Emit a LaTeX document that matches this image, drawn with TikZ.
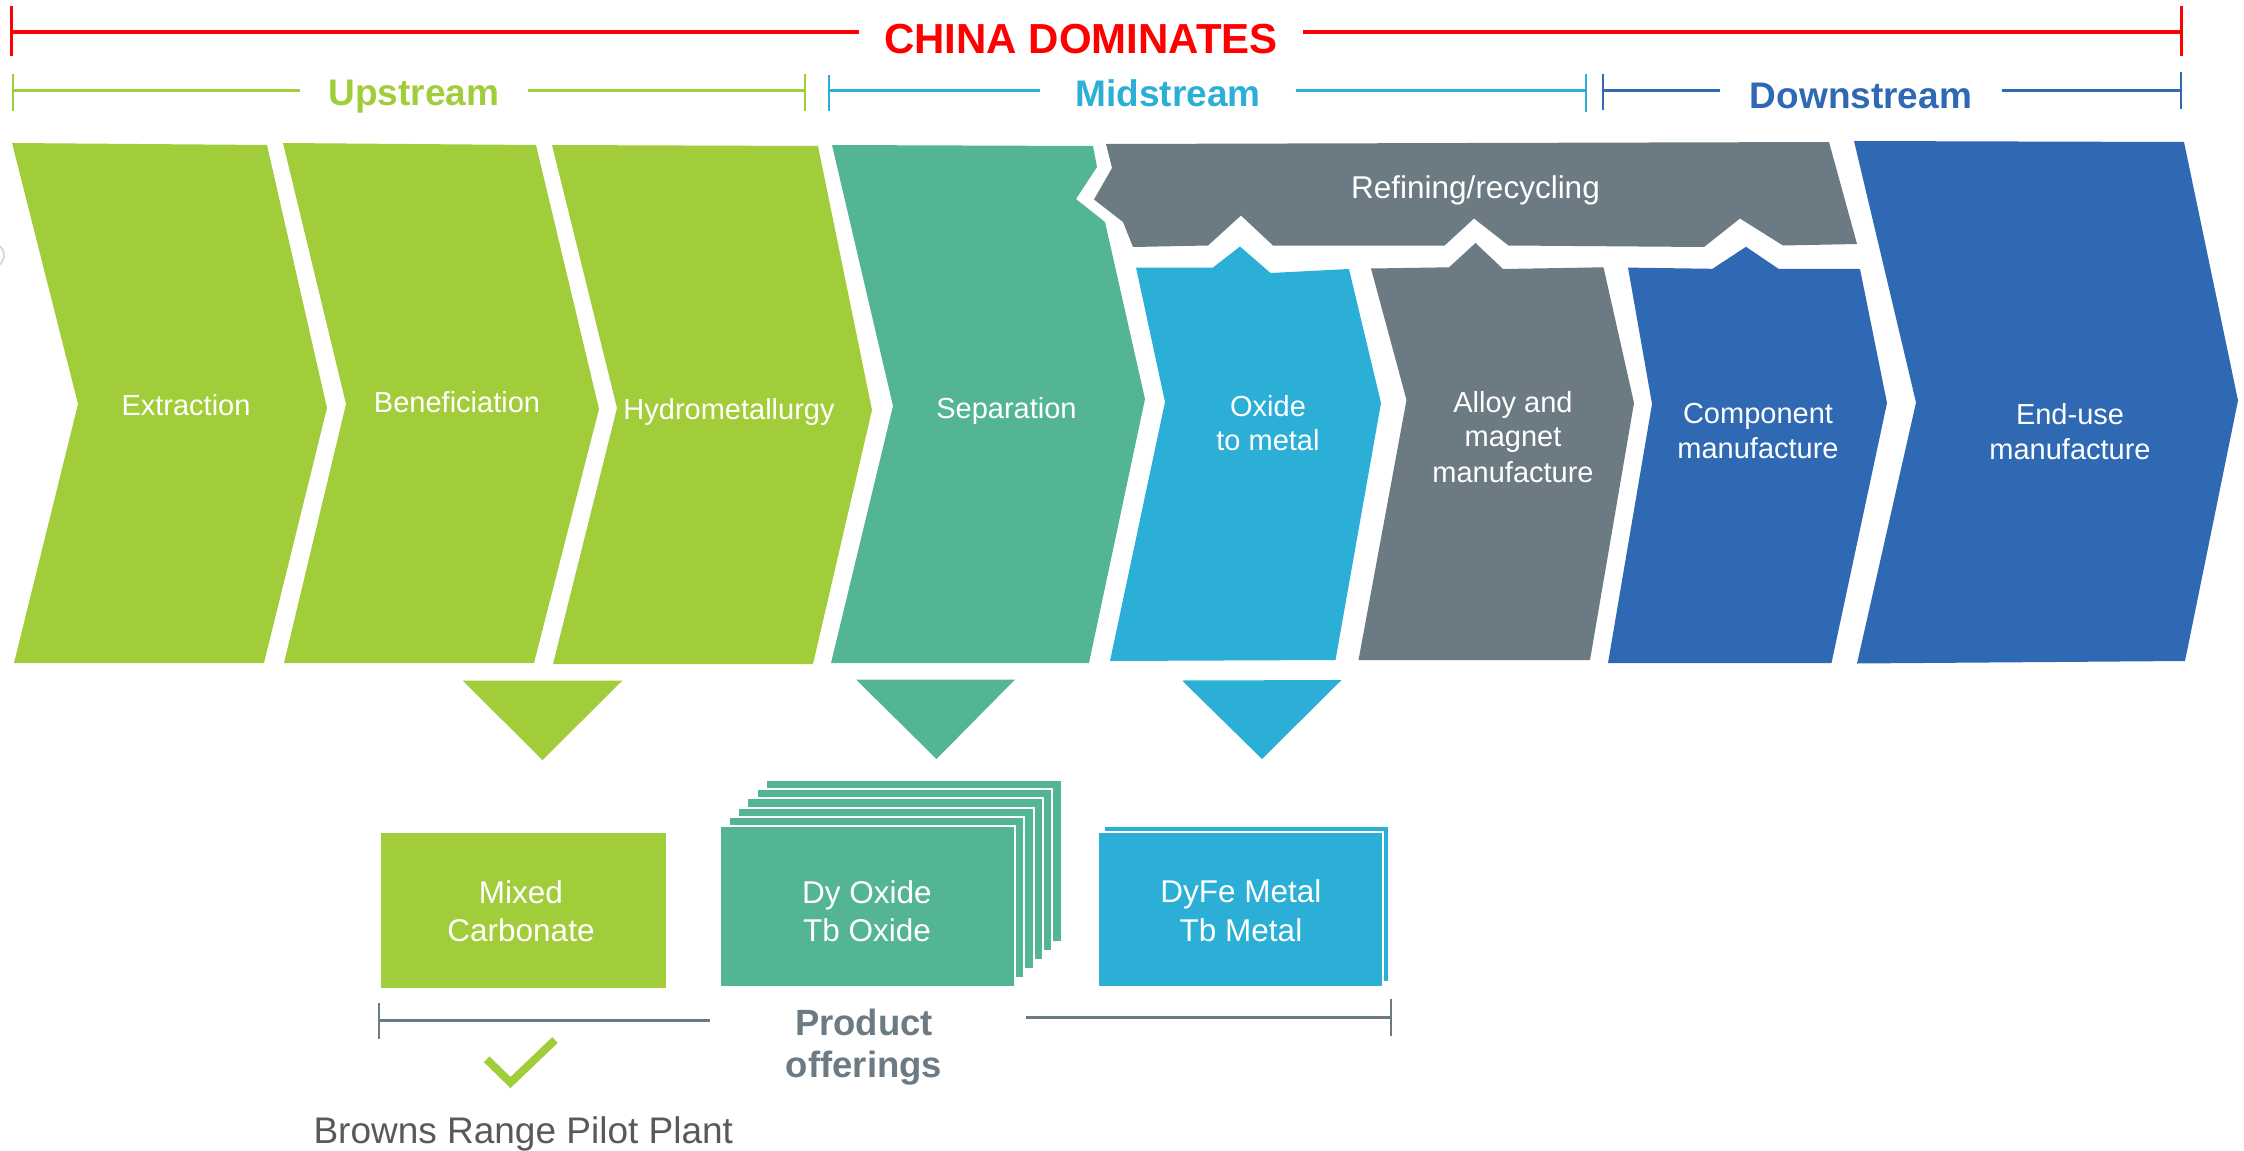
\documentclass[tikz,border=0pt]{standalone}
\usepackage{fontspec}
\setmainfont{Liberation Sans}
\definecolor{cgreen}{HTML}{A2CD3A}
\definecolor{cteal}{HTML}{54B595}
\definecolor{ccyan}{HTML}{2BAFD6}
\definecolor{cgray}{HTML}{6C7A84}
\definecolor{cblue}{HTML}{2F69B3}
\definecolor{cred}{HTML}{FF0000}
\definecolor{ctext}{HTML}{595959}
\begin{document}
\begin{tikzpicture}[x=1pt,y=-1pt,
  lbl/.style={text=white, font=\fontsize{29}{35}\selectfont, anchor=base, inner sep=0pt},
  boxlbl/.style={text=white, font=\fontsize{31.5}{38}\selectfont, anchor=base, inner sep=0pt},
  hdr/.style={font=\bfseries\fontsize{37}{44}\selectfont, anchor=base, inner ysep=0pt},
  barline/.style={line width=3pt},
  stackbox/.style={fill=#1, draw=white, line width=2pt}
]
\useasboundingbox (0,0) rectangle (2244,1151);

% faint remnant at left edge
\draw[black!18, line width=1.5pt] (-0.3,246.2) arc[start angle=-50,end angle=50,radius=12];

% ---------- CHINA DOMINATES ----------
\coordinate (rL) at (11.5,31.5);
\coordinate (rR) at (2181,31.5);
\node[anchor=base, inner ysep=0pt, inner xsep=25pt, text=cred,
      font=\bfseries\fontsize{42}{50}\selectfont] (china) at (1081,53.3) {CHINA DOMINATES};
\draw[cred, line width=4pt] (rL) -- (rL -| china.west);
\draw[cred, line width=4pt] (rR -| china.east) -- (rR);
\draw[cred, line width=3pt] ([yshift=25.5pt]rL) -- ([yshift=-24.5pt]rL);
\draw[cred, line width=3pt] ([yshift=25.5pt]rR) -- ([yshift=-24.5pt]rR);

% ---------- Upstream ----------
\coordinate (uL) at (13,90.7);
\coordinate (uR) at (805,90.7);
\node[hdr, text=cgreen, inner xsep=28pt] (up) at (414,105.5) {Upstream};
\draw[cgreen, barline] (uL) -- (uL -| up.west);
\draw[cgreen, barline] (uR -| up.east) -- (uR);
\draw[cgreen, line width=2.5pt] ([yshift=16.7pt]uL) -- ([yshift=-20pt]uL);
\draw[cgreen, line width=2.5pt] ([yshift=16.7pt]uR) -- ([yshift=-20pt]uR);

% ---------- Midstream ----------
\coordinate (mL) at (829,90.7);
\coordinate (mR) at (1586,90.7);
\node[hdr, text=ccyan, inner xsep=35pt] (mid) at (1168,106.5) {Midstream};
\draw[ccyan, barline] (mL) -- (mL -| mid.west);
\draw[ccyan, barline] (mR -| mid.east) -- (mR);
\draw[ccyan, line width=2.5pt] ([yshift=16pt]mL) -- ([yshift=-20.5pt]mL);
\draw[ccyan, line width=2.5pt] ([yshift=16.7pt]mR) -- ([yshift=-21pt]mR);

% ---------- Downstream ----------
\coordinate (dL) at (1603,90.7);
\coordinate (dR) at (2181,90.7);
\node[hdr, text=cblue, inner xsep=29.5pt] (down) at (1861,108) {Downstream};
\draw[cblue, barline] (dL) -- (dL -| down.west);
\draw[cblue, barline] (dR -| down.east) -- (dR);
\draw[cblue, line width=2.5pt] ([yshift=17pt]dL) -- ([yshift=-19pt]dL);
\draw[cblue, line width=2.5pt] ([yshift=18.7pt]dR) -- ([yshift=-18.3pt]dR);

% ---------- chevrons ----------
\fill[cgreen] (12,143) -- (267,145) -- (327,408) -- (264,663) -- (14,663) -- (78,404) -- cycle;
\fill[cgreen] (283,143) -- (536,145) -- (599,409) -- (534,663) -- (284,663) -- (346,404) -- cycle;
\fill[cgreen] (552,145) -- (818,146) -- (872,410) -- (813,664) -- (553,664) -- (617,408) -- cycle;
\fill[cteal] (832,145) -- (1093,146) -- (1097,167) -- (1076,199) -- (1105,222) -- (1145,399)
  -- (1089,663) -- (831,663) -- (893,406) -- cycle;
\fill[cgray] (1106,144) -- (1829,142) -- (1857,244) -- (1783,245.5) -- (1740,218.5) -- (1704,247)
  -- (1508.5,245.5) -- (1474,218.5) -- (1444.6,245.5) -- (1273,245.5) -- (1241,215.5) -- (1208,245.5)
  -- (1133,247) -- (1123,222) -- (1094,199.5) -- (1112,168) -- cycle;
\fill[ccyan] (1136,267.5) -- (1213,267.5) -- (1240,246.5) -- (1270.5,273) -- (1349,269) -- (1381,403)
  -- (1335.5,660) -- (1110,661) -- (1165,402) -- cycle;
\fill[cgray] (1371,268.5) -- (1449,267.3) -- (1475.5,243) -- (1503,269) -- (1603.5,267.3) -- (1634,403)
  -- (1590,660) -- (1358.5,660) -- (1406.5,400) -- cycle;
\fill[cblue] (1628,267.6) -- (1712.5,268.8) -- (1746,246.8) -- (1778.5,268.8) -- (1860,269) -- (1887,403)
  -- (1831.5,663) -- (1608,663) -- (1652,404) -- cycle;
\fill[cblue] (1854,141) -- (2184,142) -- (2238,400.5) -- (2185,661) -- (1857,663.5) -- (1916,402.5) -- cycle;

% ---------- chevron labels ----------
\node[lbl] (extr) at (186,415) {Extraction};
\node[lbl] (benef) at (457,412) {Beneficiation};
\node[lbl] (hydro) at (729,419) {Hydrometallurgy};
\node[lbl] (sep) at (1006.5,418) {Separation};
\node[lbl, font=\fontsize{31.5}{38}\selectfont] (refin) at (1475.5,198) {Refining/recycling};
\node[lbl] (oxA) at (1268,416) {Oxide};
\node[lbl] (oxB) at (1268,450.5) {to metal};
\node[lbl] (alA) at (1513,412) {Alloy and};
\node[lbl] (alB) at (1513,446.5) {magnet};
\node[lbl] (alC) at (1513,482) {manufacture};
\node[lbl] (coA) at (1758,423.5) {Component};
\node[lbl] (coB) at (1758,458.5) {manufacture};
\node[lbl] (enA) at (2070,424) {End-use};
\node[lbl] (enB) at (2070,459) {manufacture};

% ---------- down triangles ----------
\fill[cgreen] (462.5,680.5) -- (622.5,680.5) -- (542.5,760) -- cycle;
\fill[cteal] (856,679.5) -- (1015,679.5) -- (936.5,759) -- cycle;
\fill[ccyan] (1182,680.5) -- (1341.5,680) -- (1262,759) -- cycle;

% ---------- product boxes ----------
\fill[cgreen] (381,833) rectangle (665.5,987.5);
\node[boxlbl] (mixA) at (521,903.3) {Mixed};
\node[boxlbl] (mixB) at (521,941.7) {Carbonate};

\foreach \i in {5,4,...,0}{
  \draw[stackbox=cteal] (719.5+9.3*\i, 825.7-9.1*\i) rectangle (1015+9.3*\i, 987.3-9.1*\i);
}
\node[boxlbl] (oxdA) at (867,903.3) {Dy Oxide};
\node[boxlbl] (oxdB) at (867,941.7) {Tb Oxide};

\draw[stackbox=ccyan] (1104.3,825.7) rectangle (1388.7,981.7);
\draw[stackbox=ccyan] (1098.3,831.7) rectangle (1383.3,987.3);
\node[boxlbl] (metA) at (1241,902.5) {DyFe Metal};
\node[boxlbl] (metB) at (1241,941.2) {Tb Metal};

% ---------- product offerings bracket ----------
\coordinate (pL) at (379,1020.5);
\coordinate (pLe) at (709.6,1020.5);
\coordinate (pRs) at (1026,1017.7);
\coordinate (pR) at (1391,1017.7);
\draw[cgray, barline] (pL) -- (pLe);
\draw[cgray, barline] (pRs) -- (pR);
\draw[cgray, line width=2.5pt] ([yshift=17.8pt]pL) -- ([yshift=-18.8pt]pL);
\draw[cgray, line width=2.5pt] ([yshift=18.7pt]pR) -- ([yshift=-18pt]pR);
\node[anchor=base, inner sep=0pt, text=cgray, font=\bfseries\fontsize{36.5}{42}\selectfont] (prodA) at (864,1035) {Product};
\node[anchor=base, inner sep=0pt, text=cgray, font=\bfseries\fontsize{36.5}{42}\selectfont] (prodB) at (864,1077) {offerings};

% ---------- check mark and pilot plant ----------
\coordinate (ck1) at (486.7,1059.3);
\coordinate (ck2) at (510.5,1082.5);
\coordinate (ck3) at (555,1040);
\draw[cgreen, line width=8pt] (ck1) -- (ck2) -- (ck3);
\node[anchor=base, inner sep=0pt, text=ctext, font=\fontsize{37}{44}\selectfont] (brpp) at (523.3,1143.3) {Browns Range Pilot Plant};

\end{tikzpicture}
\end{document}
